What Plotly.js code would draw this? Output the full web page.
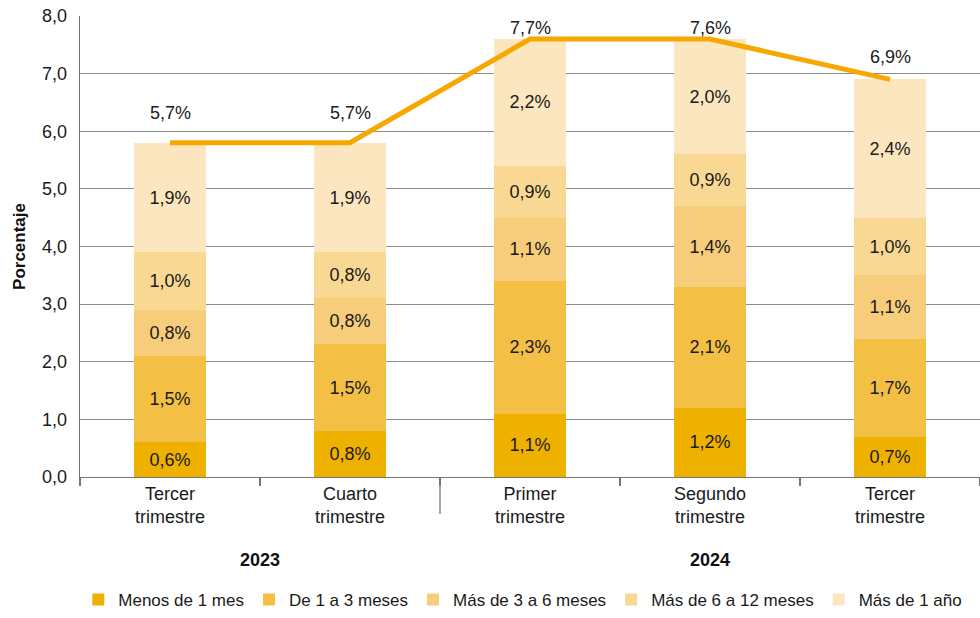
<!DOCTYPE html>
<html>
<head>
<meta charset="utf-8">
<script src="https://cdn.plot.ly/plotly-3.0.1.min.js"></script>
<style>html,body{margin:0;padding:0;background:#fff}#chart{width:980px;height:618px}</style>
</head>
<body>
<div id="chart"></div>
<script>
// ---- data ----
const categoryKeys = ["2023-T3", "2023-T4", "2024-T1", "2024-T2", "2024-T3"];
const tickLabels = ["Tercer<br>trimestre", "Cuarto<br>trimestre", "Primer<br>trimestre", "Segundo<br>trimestre", "Tercer<br>trimestre"];
const years = ["2023", "2024"];
const yearGroups = [["2023-T3", "2023-T4"], ["2024-T1", "2024-T2", "2024-T3"]];

const seriesNames = ["Menos de 1 mes", "De 1 a 3 meses", "Más de 3 a 6 meses", "Más de 6 a 12 meses", "Más de 1 año"];
const menos1mes   = [0.6, 0.8, 1.1, 1.2, 0.7];
const de1a3       = [1.5, 1.5, 2.3, 2.1, 1.7];
const mas3a6      = [0.8, 0.8, 1.1, 1.4, 1.1];
const mas6a12     = [1.0, 0.8, 0.9, 0.9, 1.0];
const mas1ano     = [1.9, 1.9, 2.2, 2.0, 2.4];

const totalLine   = [5.8, 5.8, 7.6, 7.6, 6.9];
const totalLabels = ["5,7%", "5,7%", "7,7%", "7,6%", "6,9%"];

// ---- styles ----
const colors = ["#EFB100", "#F4BF45", "#F7CC7A", "#F9D893", "#FCE6C0"];
const lineColor = "#F7A800";
const labelShift = [30, 30, 11, 11, 22];
const FONT = "Liberation Sans, Arial, sans-serif";
const FS = 18;

const fmt = v => v.toFixed(1).replace(".", ",") + "%";
const seriesValues = [menos1mes, de1a3, mas3a6, mas6a12, mas1ano];

const traces = seriesValues.map((vals, i) => ({
  type: "bar",
  name: seriesNames[i],
  x: categoryKeys,
  y: vals,
  text: vals.map(fmt),
  textposition: "inside",
  insidetextanchor: "middle",
  textangle: 0,
  constraintext: "none",
  textfont: {family: FONT, size: FS, color: "#1a1a1a"},
  marker: {color: colors[i], line: {width: 0}},
  hoverinfo: "skip"
}));

traces.push({
  type: "scatter",
  mode: "lines",
  x: categoryKeys,
  y: totalLine,
  line: {color: lineColor, width: 5},
  showlegend: false,
  hoverinfo: "skip",
  cliponaxis: false
});

const annotations = totalLine.map((v, i) => ({
  x: categoryKeys[i], y: v, xref: "x", yref: "y",
  text: totalLabels[i], showarrow: false,
  yanchor: "middle", yshift: labelShift[i],
  font: {family: FONT, size: FS, color: "#1a1a1a"}
}));

yearGroups.forEach((grp, i) => {
  const idx = grp.map(k => categoryKeys.indexOf(k));
  const mid = (idx[0] + idx[idx.length - 1]) / 2;
  annotations.push({
    x: mid, y: -0.18, xref: "x", yref: "paper",
    text: "<b>" + years[i] + "</b>", showarrow: false,
    yanchor: "middle",
    font: {family: FONT, size: FS, color: "#111"}
  });
});

// divider between years
const firstGroupEnd = categoryKeys.indexOf(yearGroups[0][yearGroups[0].length - 1]);
const shapes = [{
  type: "line", xref: "x", yref: "paper",
  x0: firstGroupEnd + 0.5, x1: firstGroupEnd + 0.5, y0: 0, y1: -0.08,
  line: {color: "#777", width: 1.3}
}];

const layout = {
  width: 980, height: 618,
  margin: {l: 80, r: 0, t: 16, b: 141},
  paper_bgcolor: "#fff", plot_bgcolor: "#fff",
  barmode: "stack",
  bargap: 0.6,
  separators: ",.",
  font: {family: FONT, size: FS, color: "#1a1a1a"},
  xaxis: {
    type: "category",
    tickvals: categoryKeys,
    ticktext: tickLabels,
    tickson: "boundaries",
    ticks: "outside", ticklen: 8, tickcolor: "#777", tickwidth: 1.3,
    showline: true, linecolor: "#777", linewidth: 1.3,
    showgrid: false,
    tickfont: {family: FONT, size: FS, color: "#1a1a1a"}
  },
  yaxis: {
    range: [0, 8],
    dtick: 1,
    tickformat: ".1f",
    showgrid: true, gridcolor: "#8c8c8c", gridwidth: 1,
    showline: true, linecolor: "#777", linewidth: 1.3,
    zeroline: false,
    ticks: "", ticklabelstandoff: 8,
    tickfont: {family: FONT, size: FS, color: "#1a1a1a"},
    title: {text: "<b>Porcentaje</b>", standoff: 12, font: {family: FONT, size: 17, color: "#111"}}
  },
  legend: {
    orientation: "h",
    x: 0.492, xanchor: "center",
    yref: "container", y: -0.012, yanchor: "bottom",
    font: {family: FONT, size: 17, color: "#1a1a1a"},
    itemwidth: 30,
    traceorder: "normal"
  },
  annotations: annotations,
  shapes: shapes,
  showlegend: true
};

Plotly.newPlot("chart", traces, layout, {displayModeBar: false, staticPlot: true});
</script>
</body>
</html>
